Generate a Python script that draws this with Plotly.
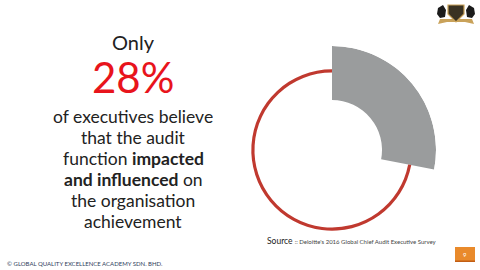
import plotly.graph_objects as go

labels = ["Impacted and influenced", "Other executives"]
values = [28, 72]
colors = ["#9a9c9d", "#c0392f"]
headline = "28%"
body_lines = ["of executives believe", "that the audit",
              "function <b>impacted</b>", "<b>and influenced</b> on",
              "the organisation", "achievement"]
source_text = "Deloitte's 2016 Global Chief Audit Executive Survey"
footer_text = "© GLOBAL QUALITY EXCELLENCE ACADEMY SDN. BHD."
page_no = "9"

total = sum(values)
R_OUT = 104.0
fig = go.Figure()

# gray thick slice (first value)
w0 = values[0] / total * 360
fig.add_trace(go.Barpolar(theta=[w0 / 2], width=[w0], r=[R_OUT - 50], base=[50],
                          marker=dict(color=colors[0], line=dict(width=0)),
                          name=labels[0], hoverinfo="skip"))
# red thin ring (second value)
w1 = values[1] / total * 360
fig.add_trace(go.Barpolar(theta=[w0 + w1 / 2], width=[w1], r=[3.2], base=[77.5],
                          marker=dict(color=colors[1], line=dict(width=0)),
                          name=labels[1], hoverinfo="skip"))

W, H = 480, 270
cx, cy = 332, 150
fig.update_layout(
    width=W, height=H, margin=dict(l=0, r=0, t=0, b=0),
    paper_bgcolor="white", plot_bgcolor="white", showlegend=False,
    polar=dict(
        domain=dict(x=[(cx - R_OUT) / W, (cx + R_OUT) / W],
                    y=[(H - cy - R_OUT) / H, (H - cy + R_OUT) / H]),
        bgcolor="rgba(0,0,0,0)", hole=0,
        radialaxis=dict(range=[0, R_OUT], visible=False, showgrid=False),
        angularaxis=dict(rotation=90, direction="clockwise", visible=False,
                         showgrid=False, showline=False, ticks=""),
        bargap=0,
    ),
)

font_main = "Lato, 'Open Sans', sans-serif"
def px(x, y):
    return x / W, 1 - y / H

ann = []
x0, y0 = px(133, 42)
ann.append(dict(x=x0, y=y0, text="Only", height=22,
                font=dict(family=font_main, size=20, color="#222222")))
x0, y0 = px(133, 77)
ann.append(dict(x=x0, y=y0, text=headline, height=40,
                font=dict(family=font_main, size=42, color="#e8141c")))
ys = [116, 137, 158, 179, 200, 221]
for t, yy in zip(body_lines, ys):
    x0, y0 = px(133, yy)
    ann.append(dict(x=x0, y=y0, text=t, height=20,
                    font=dict(family=font_main, size=17.5, color="#222222")))
x0, y0 = px(265, 241)
ann.append(dict(x=x0, y=y0, xanchor="left",
                text="Source <span style='font-size:6px;color:#444444'>:: " + source_text + "</span>",
                font=dict(family=font_main, size=8.5, color="#222222")))
x0, y0 = px(5, 263)
ann.append(dict(x=x0, y=y0, xanchor="left", text=footer_text,
                font=dict(family=font_main, size=6, color="#2f3d5c")))
x0, y0 = px(465, 254)
ann.append(dict(x=x0, y=y0, text=page_no, font=dict(family=font_main, size=6, color="white")))
for a in ann:
    a.setdefault("xanchor", "center")
    a.update(xref="paper", yref="paper", yanchor="middle", valign="middle", showarrow=False)
fig.update_layout(annotations=ann)

shapes = []
# page number box
shapes.append(dict(type="rect", xref="paper", yref="paper",
                   x0=455 / W, x1=475 / W, y0=1 - 262 / H, y1=1 - 247 / H,
                   fillcolor="#e98a2b", line=dict(width=0), layer="below"))
shapes.append(dict(type="rect", xref="paper", yref="paper",
                   x0=455 / W, x1=475 / W, y0=1 - 262 / H, y1=1 - 260.5 / H,
                   fillcolor="#c25e14", line=dict(width=0), layer="below"))
# logo: ribbon, lions, shield
def P(pts):
    return "M " + " L ".join(f"{x / W},{1 - y / H}" for x, y in pts) + " Z"
shapes.append(dict(type="path", xref="paper", yref="paper",
                   path=P([(440, 19), (472, 19), (474, 24), (465, 22), (447, 22), (438, 24)]),
                   fillcolor="#c9a25a", line=dict(width=0)))
shapes.append(dict(type="path", xref="paper", yref="paper",
                   path=P([(438, 8), (443, 5), (446, 10), (445, 17), (440, 18), (437, 14)]),
                   fillcolor="#1b1b1b", line=dict(width=0)))
shapes.append(dict(type="path", xref="paper", yref="paper",
                   path=P([(474, 8), (469, 5), (466, 10), (467, 17), (472, 18), (475, 14)]),
                   fillcolor="#1b1b1b", line=dict(width=0)))
shapes.append(dict(type="path", xref="paper", yref="paper",
                   path=P([(448, 5), (464, 5), (464, 14), (456, 22), (448, 14)]),
                   fillcolor="#3a3222", line=dict(color="#c9a25a", width=1.2)))
fig.update_layout(shapes=shapes)

fig.write_html("out.html")
